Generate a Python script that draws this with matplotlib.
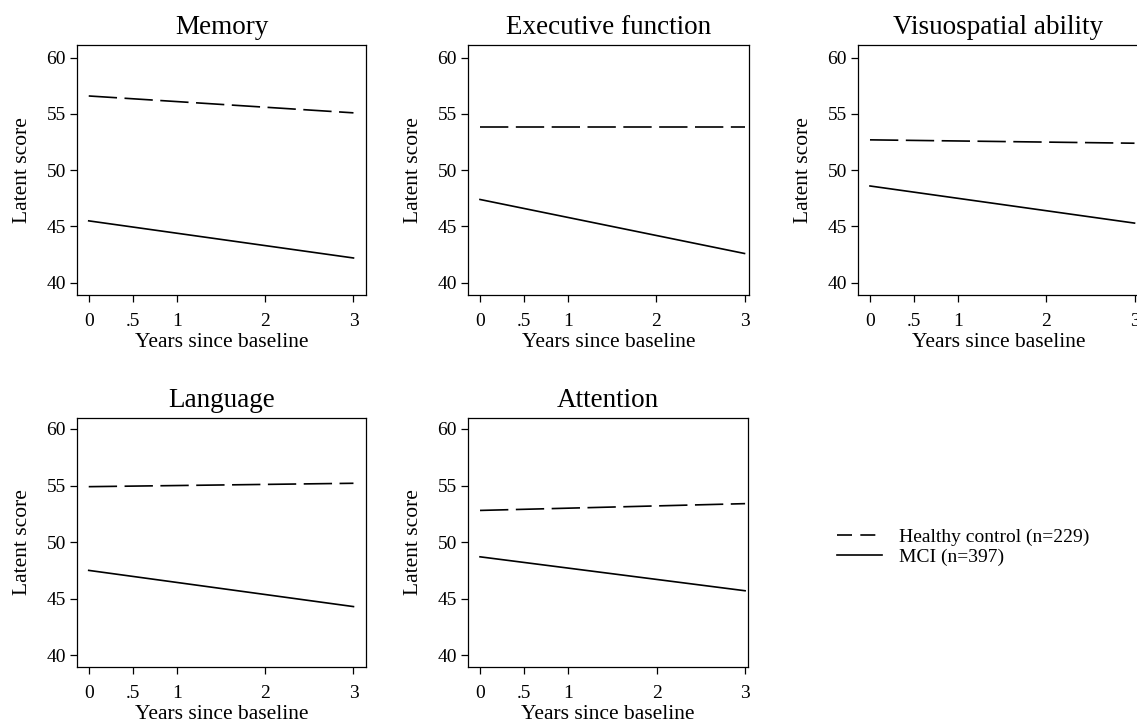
import matplotlib
matplotlib.use('Agg')
import matplotlib.pyplot as plt
from matplotlib.lines import Line2D

plt.rcParams['font.family'] = ['Liberation Serif', 'DejaVu Serif']

# 数据: 每个维度在基线和第3年的潜在得分
years = [0, 3]
domains = ['Memory', 'Executive function', 'Visuospatial ability', 'Language', 'Attention']
hc_scores = [[56.6, 55.1], [53.8, 53.8], [52.7, 52.4], [54.9, 55.2], [52.8, 53.4]]
mci_scores = [[45.5, 42.2], [47.4, 42.6], [48.6, 45.3], [47.5, 44.3], [48.7, 45.7]]
hc_label = 'Healthy control (n=229)'
mci_label = 'MCI (n=397)'
x_ticks = [0, 0.5, 1, 2, 3]
x_ticklabels = ['0', '.5', '1', '2', '3']
y_ticks = [40, 45, 50, 55, 60]

W, H = 1137, 726
# 像素坐标下的子图位置: left, top, right, bottom
boxes = [(77, 45, 366, 295), (468, 45, 749, 295), (858, 45, 1139, 295),
         (77, 418, 366, 667), (468, 418, 748, 667)]
xlims = [(-0.133, 3.142), (-0.136, 3.051), (-0.136, 3.051), (-0.133, 3.142), (-0.136, 3.033)]
ylims = [(38.91, 61.13)] * 3 + [(38.96, 60.97)] * 2

fig = plt.figure(figsize=(W / 100, H / 100), dpi=100)

for i, name in enumerate(domains):
    l, t, r, b = boxes[i]
    ax = fig.add_axes([l / W, 1 - b / H, (r - l) / W, (b - t) / H])
    ax.plot(years, hc_scores[i], color='black', lw=1.2, dashes=(17, 4.5))
    ax.plot(years, mci_scores[i], color='black', lw=1.2)
    ax.set_xlim(xlims[i])
    ax.set_ylim(ylims[i])
    ax.set_xticks(x_ticks)
    ax.set_xticklabels(x_ticklabels)
    ax.set_yticks(y_ticks)
    ax.tick_params(direction='out', length=5, width=0.9, labelsize=14, color='black')
    ax.tick_params(axis='x', pad=8)
    ax.tick_params(axis='y', pad=3)
    for sp in ax.spines.values():
        sp.set_linewidth(0.9)
    ax.set_title(name, fontsize=19.5, pad=8)
    ax.set_xlabel('Years since baseline', fontsize=15.5, labelpad=2)
    ax.set_ylabel('Latent score', fontsize=15.5, labelpad=10)

handles = [Line2D([], [], color='black', lw=1.2, dashes=(9, 5)),
           Line2D([], [], color='black', lw=1.2)]
fig.legend(handles, [hc_label, mci_label], loc='upper left', bbox_to_anchor=(837 / W, 1 - 528 / H),
           frameon=False, fontsize=14, borderpad=0, borderaxespad=0,
           handlelength=2.3, handletextpad=0.9, labelspacing=0.15)

plt.savefig('out.png', dpi=100)
plt.close()
